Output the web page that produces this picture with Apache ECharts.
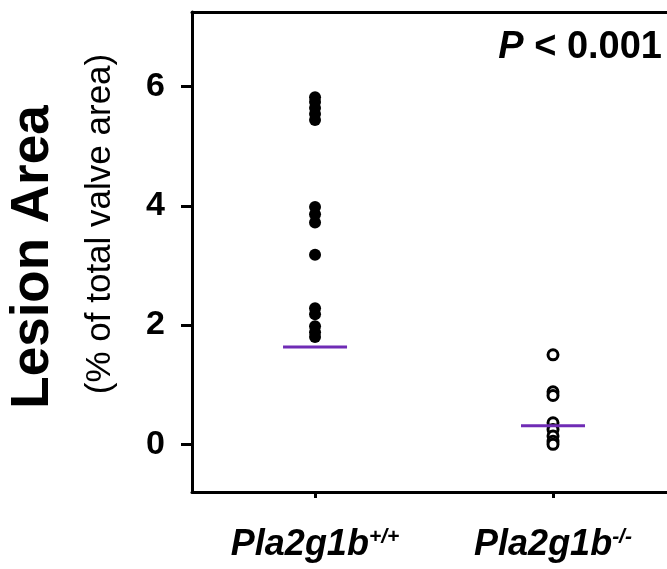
<!DOCTYPE html>
<html>
<head>
<meta charset="utf-8">
<script src="https://cdn.jsdelivr.net/npm/echarts@6/dist/echarts.min.js"></script>
<style>
  html, body { margin: 0; padding: 0; background: #fff; }
  #chart { width: 667px; height: 569px; }
</style>
</head>
<body>
<div id="chart"></div>
<script>
// groups on the x axis (positions 0 and 1)
var groupGenes = ['Pla2g1b', 'Pla2g1b'];
var groupSup = ['+/+', '-/-'];
var groupPos = [0, 1];
// lesion area (% of total valve area) per animal
var wtValues = [5.82, 5.74, 5.64, 5.54, 5.44, 3.98, 3.86, 3.72, 3.18, 2.28, 2.18, 1.98, 1.88, 1.80];
var koValues = [1.50, 0.88, 0.82, 0.36, 0.25, 0.14, 0.05, 0.00];
// horizontal bars
var medians = [1.63, 0.31];
var yTicks = [0, 2, 4, 6];

var chart = echarts.init(document.getElementById('chart'));
var font = 'Liberation Sans, Arial, sans-serif';
var xMin = -0.517, xMax = 1.479;

function pairs(idx, vals) {
    return vals.map(function(v) { return [idx, v]; });
}

var option = {
    animation: false,
    grid: { left: 192, right: 0, top: 12, bottom: 77 },
    xAxis: [{
        type: 'value',
        min: xMin,
        max: xMax,
        splitLine: { show: false },
        axisLine: { onZero: false, lineStyle: { color: '#000', width: 3 } },
        axisTick: { customValues: groupPos, length: 6, lineStyle: { color: '#000', width: 3 } },
        axisLabel: {
            customValues: groupPos,
            margin: 35,
            formatter: function(v) {
                var i = Math.round(v);
                return '{g|' + groupGenes[i] + '}{s|' + groupSup[i] + '}';
            },
            rich: {
                g: { fontFamily: font, fontSize: 36, fontWeight: 'bold', fontStyle: 'italic', color: '#000' },
                s: { fontFamily: font, fontSize: 21, fontWeight: 'bold', fontStyle: 'italic', color: '#000', verticalAlign: 'top', padding: [0, 0, 16, 0] }
            }
        }
    }, {
        // top frame line only
        type: 'value',
        position: 'top',
        min: xMin,
        max: xMax,
        splitLine: { show: false },
        axisLine: { onZero: false, lineStyle: { color: '#000', width: 3 } },
        axisTick: { show: false },
        axisLabel: { show: false }
    }],
    yAxis: {
        type: 'value',
        min: -0.8,
        max: 7.25,
        splitLine: { show: false },
        axisLine: { show: true, onZero: false, lineStyle: { color: '#000', width: 3 } },
        axisTick: { show: true, length: 11, customValues: yTicks, lineStyle: { color: '#000', width: 3 } },
        axisLabel: {
            customValues: yTicks,
            margin: 27,
            fontFamily: font, fontSize: 34, fontWeight: 'bold', color: '#000'
        }
    },
    graphic: [
        {
            type: 'text', x: 33, y: 257, rotation: Math.PI / 2,
            style: { text: 'Lesion Area', fontFamily: font, fontSize: 53, fontWeight: 'bold', fill: '#000', align: 'center', verticalAlign: 'middle' }
        },
        {
            type: 'text', x: 100, y: 224, rotation: Math.PI / 2,
            style: { text: '(% of total valve area)', fontFamily: font, fontSize: 35, fill: '#000', align: 'center', verticalAlign: 'middle' }
        },
        {
            type: 'text', x: 662, y: 48,
            style: {
                text: '{p|P}{t| < 0.001}', align: 'right', verticalAlign: 'middle',
                rich: {
                    p: { fontFamily: font, fontSize: 38, fontWeight: 'bold', fontStyle: 'italic', fill: '#000' },
                    t: { fontFamily: font, fontSize: 38, fontWeight: 'bold', fill: '#000' }
                }
            }
        }
    ],
    series: [
        {
            type: 'scatter',
            data: pairs(0, wtValues),
            symbol: 'circle', symbolSize: 12,
            itemStyle: { color: '#000', opacity: 1 }
        },
        {
            type: 'scatter',
            data: pairs(1, koValues),
            symbol: 'circle', symbolSize: 10,
            itemStyle: { color: '#fff', borderColor: '#000', borderWidth: 3, opacity: 1 }
        },
        {
            type: 'custom',
            data: medians.map(function(m, i) { return [groupPos[i], m]; }),
            renderItem: function(params, api) {
                var p = api.coord([api.value(0), api.value(1)]);
                return {
                    type: 'line',
                    shape: { x1: p[0] - 32, y1: p[1], x2: p[0] + 32, y2: p[1] },
                    style: { stroke: '#6f2bb5', lineWidth: 3 }
                };
            },
            z: 5
        }
    ]
};
chart.setOption(option);
</script>
</body>
</html>
